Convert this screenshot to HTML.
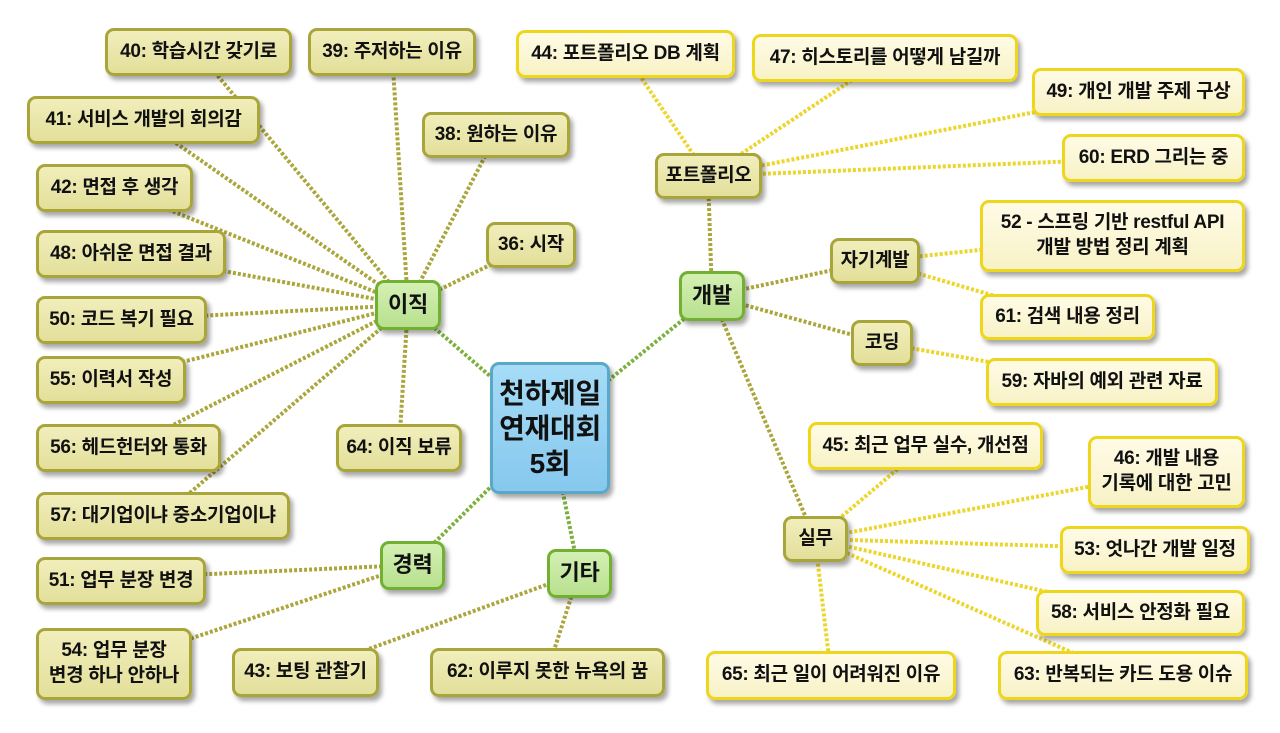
<!DOCTYPE html>
<html><head><meta charset="utf-8">
<style>
body{margin:0;width:1280px;height:733px;background:#fff;position:relative;overflow:hidden;font-family:"Liberation Sans","Noto Sans CJK KR",sans-serif;}
svg{position:absolute;left:0;top:0}
.n{position:absolute;box-sizing:border-box;display:flex;align-items:center;justify-content:center;text-align:center;font-weight:bold;font-size:19px;color:#111;border-radius:9px;box-shadow:3px 4px 5px rgba(0,0,0,.35);line-height:1.3;white-space:nowrap;letter-spacing:-0.3px}
.k{background:linear-gradient(#f1eebc,#e3df9a);border:3px solid #a8a53a}
.y{background:linear-gradient(#fffbe6,#f8f2c6);border:3px solid #eed61c}
.g{background:linear-gradient(#d4f0b4,#b8e08e);border:3px solid #72b032;font-size:22px}
.c{background:linear-gradient(#a6dcf6,#86c8ee);border:3px solid #5aa8c8;font-size:28px;line-height:1.25}
</style></head><body>
<svg width="1280" height="733">
<g stroke-width="4" stroke-dasharray="3 2" fill="none">
<g stroke="#7cb03c">
<line x1="550" y1="428" x2="408" y2="305"/><line x1="550" y1="428" x2="412" y2="565"/>
<line x1="550" y1="428" x2="579" y2="573"/><line x1="550" y1="428" x2="712" y2="296"/>
</g>
<g stroke="#aaa63c">
<line x1="408" y1="305" x2="198" y2="52"/><line x1="408" y1="305" x2="392" y2="52"/>
<line x1="408" y1="305" x2="143" y2="120"/><line x1="408" y1="305" x2="496" y2="135"/>
<line x1="408" y1="305" x2="114" y2="188"/><line x1="408" y1="305" x2="531" y2="245"/>
<line x1="408" y1="305" x2="131" y2="254"/><line x1="408" y1="305" x2="121" y2="320"/>
<line x1="408" y1="305" x2="111" y2="380"/><line x1="408" y1="305" x2="128" y2="448"/>
<line x1="408" y1="305" x2="399" y2="448"/><line x1="408" y1="305" x2="163" y2="516"/>
<line x1="412" y1="565" x2="121" y2="578"/><line x1="412" y1="565" x2="114" y2="664"/>
<line x1="579" y1="573" x2="305" y2="672"/><line x1="579" y1="573" x2="547" y2="672"/>
<line x1="712" y1="296" x2="708" y2="176"/><line x1="712" y1="296" x2="875" y2="261"/>
<line x1="712" y1="296" x2="882" y2="343"/><line x1="712" y1="296" x2="815" y2="539"/>
</g>
<g stroke="#ecd62c">
<line x1="708" y1="176" x2="625" y2="54"/><line x1="708" y1="176" x2="885" y2="58"/>
<line x1="708" y1="176" x2="1138" y2="92"/><line x1="708" y1="176" x2="1153" y2="158"/>
<line x1="875" y1="261" x2="1112" y2="236"/><line x1="875" y1="261" x2="1067" y2="317"/>
<line x1="882" y1="343" x2="1102" y2="382"/>
<line x1="815" y1="539" x2="925" y2="446"/><line x1="815" y1="539" x2="1166" y2="472"/>
<line x1="815" y1="539" x2="1155" y2="549"/><line x1="815" y1="539" x2="1140" y2="613"/>
<line x1="815" y1="539" x2="831" y2="675"/><line x1="815" y1="539" x2="1123" y2="675"/>
</g>
</g>
</svg>

<div class="n c" style="left:490px;top:362px;width:120px;height:132px">천하제일<br>연재대회<br>5회</div>
<div class="n g" style="left:375px;top:280px;width:66px;height:50px">이직</div>
<div class="n g" style="left:380px;top:541px;width:65px;height:49px">경력</div>
<div class="n g" style="left:547px;top:549px;width:65px;height:49px">기타</div>
<div class="n g" style="left:679px;top:271px;width:66px;height:50px">개발</div>

<div class="n k" style="left:105px;top:28px;width:187px;height:48px">40: 학습시간 갖기로</div>
<div class="n k" style="left:308px;top:28px;width:168px;height:48px">39: 주저하는 이유</div>
<div class="n k" style="left:27px;top:96px;width:233px;height:48px">41: 서비스 개발의 회의감</div>
<div class="n k" style="left:422px;top:112px;width:148px;height:46px">38: 원하는 이유</div>
<div class="n k" style="left:36px;top:164px;width:157px;height:48px">42: 면접 후 생각</div>
<div class="n k" style="left:486px;top:222px;width:90px;height:46px">36: 시작</div>
<div class="n k" style="left:36px;top:230px;width:190px;height:48px">48: 아쉬운 면접 결과</div>
<div class="n k" style="left:36px;top:296px;width:171px;height:48px">50: 코드 복기 필요</div>
<div class="n k" style="left:36px;top:356px;width:150px;height:48px">55: 이력서 작성</div>
<div class="n k" style="left:36px;top:424px;width:185px;height:48px">56: 헤드헌터와 통화</div>
<div class="n k" style="left:336px;top:424px;width:126px;height:48px">64: 이직 보류</div>
<div class="n k" style="left:36px;top:492px;width:254px;height:48px">57: 대기업이냐 중소기업이냐</div>
<div class="n k" style="left:36px;top:557px;width:170px;height:48px">51: 업무 분장 변경</div>
<div class="n k" style="left:36px;top:628px;width:156px;height:72px">54: 업무 분장<br>변경 하나 안하나</div>
<div class="n k" style="left:232px;top:648px;width:147px;height:49px">43: 보팅 관찰기</div>
<div class="n k" style="left:430px;top:648px;width:235px;height:49px">62: 이루지 못한 뉴욕의 꿈</div>

<div class="n k" style="left:655px;top:153px;width:107px;height:46px">포트폴리오</div>
<div class="n k" style="left:830px;top:238px;width:90px;height:46px">자기계발</div>
<div class="n k" style="left:851px;top:320px;width:62px;height:46px">코딩</div>
<div class="n k" style="left:783px;top:516px;width:65px;height:46px">실무</div>

<div class="n y" style="left:516px;top:30px;width:219px;height:48px">44: 포트폴리오 DB 계획</div>
<div class="n y" style="left:752px;top:34px;width:266px;height:48px">47: 히스토리를 어떻게 남길까</div>
<div class="n y" style="left:1032px;top:68px;width:213px;height:48px">49: 개인 개발 주제 구상</div>
<div class="n y" style="left:1062px;top:134px;width:183px;height:48px">60: ERD 그리는 중</div>
<div class="n y" style="left:980px;top:200px;width:265px;height:72px">52 - 스프링 기반 restful API<br>개발 방법 정리 계획</div>
<div class="n y" style="left:980px;top:294px;width:175px;height:46px">61: 검색 내용 정리</div>
<div class="n y" style="left:986px;top:358px;width:232px;height:48px">59: 자바의 예외 관련 자료</div>
<div class="n y" style="left:808px;top:422px;width:235px;height:48px">45: 최근 업무 실수, 개선점</div>
<div class="n y" style="left:1088px;top:436px;width:157px;height:72px">46: 개발 내용<br>기록에 대한 고민</div>
<div class="n y" style="left:1060px;top:526px;width:190px;height:48px">53: 엇나간 개발 일정</div>
<div class="n y" style="left:1036px;top:590px;width:209px;height:46px">58: 서비스 안정화 필요</div>
<div class="n y" style="left:706px;top:651px;width:250px;height:49px">65: 최근 일이 어려워진 이유</div>
<div class="n y" style="left:998px;top:651px;width:250px;height:49px">63: 반복되는 카드 도용 이슈</div>
</body></html>
